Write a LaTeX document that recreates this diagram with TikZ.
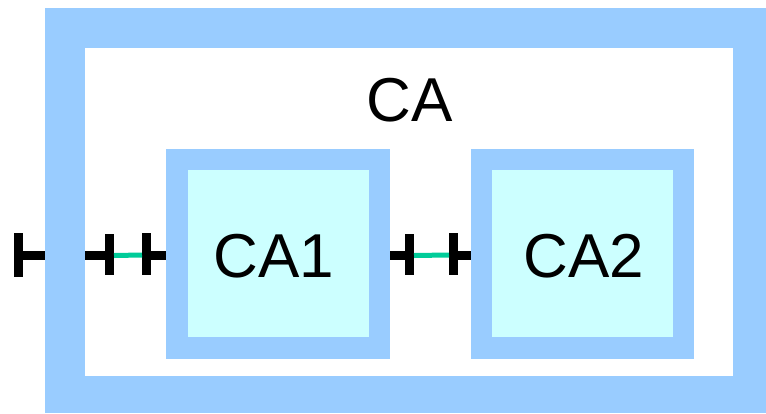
\documentclass[tikz,border=0pt]{standalone}
\usepackage{fontspec}
\setmainfont{Liberation Sans}
\definecolor{frameblue}{HTML}{99CCFF}
\definecolor{boxcyan}{HTML}{CCFFFF}
\definecolor{linkgreen}{HTML}{00CC99}
\begin{document}
\begin{tikzpicture}[x=1pt,y=-1pt,
  blk/.style={anchor=north west, inner sep=0pt, outer sep=0pt, draw=none},
  portbar/.style={blk, fill=black, minimum width=9pt, minimum height=42pt},
  portstub/.style={blk, fill=black, minimum height=9pt},
  lbl/.style={anchor=base, inner sep=0pt, font=\fontsize{62}{62}\selectfont},
  link/.style={draw=linkgreen, line width=5pt}]
\useasboundingbox (0,0) rectangle (766,413);
% outer component CA
\node[blk, fill=frameblue, minimum width=721pt, minimum height=405pt] (CAframe) at (45,8) {};
\node[blk, fill=white, minimum width=648pt, minimum height=328pt] (CAin) at (85,48) {};
\node[lbl] (CAlabel) at (410,121) {CA};
% CA1
\node[blk, fill=frameblue, minimum width=224pt, minimum height=210pt] (CAoneframe) at (166,149) {};
\node[blk, fill=boxcyan, minimum width=181pt, minimum height=167pt] (CAonein) at (188,170) {};
\node[lbl] (CAonelabel) at (274,277) {CA1};
% CA2
\node[blk, fill=frameblue, minimum width=223pt, minimum height=210pt] (CAtwoframe) at (471,149) {};
\node[blk, fill=boxcyan, minimum width=181pt, minimum height=167pt] (CAtwoin) at (492,170) {};
\node[lbl] (CAtwolabel) at (584,277) {CA2};
% outer port of CA (outside)
\node[portbar, minimum height=44pt] (pA) at (14,233) {};
\node[portstub, minimum width=22pt] (pAs) at (23,251) {};
% inner side of CA port
\node[portstub, minimum width=20pt] (pBs) at (85,251) {};
\node[portbar, minimum height=41pt] (pB) at (105,234) {};
% CA1 left port
\node[portbar] (pC) at (142,233) {};
\node[portstub, minimum width=15pt] (pCs) at (151,251) {};
% CA1 right port
\node[portstub, minimum width=15pt] (pDs) at (390,251) {};
\node[portbar, minimum height=41pt] (pD) at (405,234) {};
% CA2 left port
\node[portbar] (pE) at (449,233) {};
\node[portstub, minimum width=13pt] (pEs) at (458,251) {};
% connectors
\draw[link] ([yshift=-1pt]pB.east) -- ([yshift=-1pt]pC.west);
\draw[link] ([yshift=-1pt]pD.east) -- ([yshift=-1pt]pE.west);
\end{tikzpicture}
\end{document}
